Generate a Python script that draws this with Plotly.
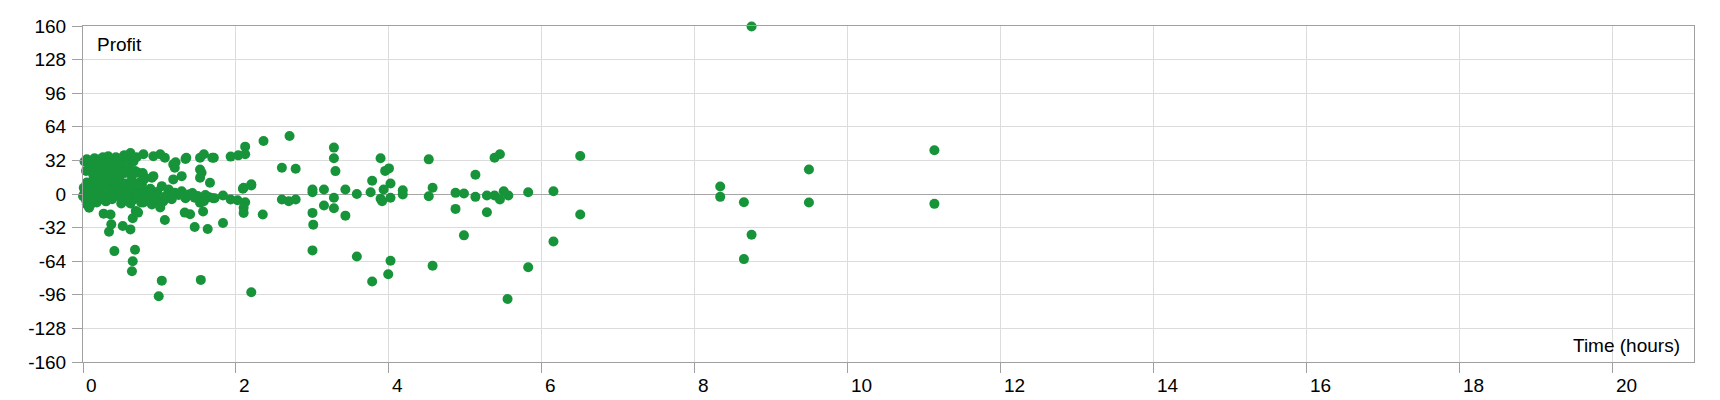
import plotly.graph_objects as go

# Trade duration (hours) and resulting profit
hours = [
    # dense cluster 0-0.8 h
    0.02, 0.05, 0.08, 0.12, 0.15, 0.19, 0.22, 0.26, 0.29, 0.33, 0.36, 0.40, 0.43, 0.46, 0.50, 0.54, 0.58, 0.62, 0.66, 0.70,
    0.04, 0.09, 0.13, 0.17, 0.21, 0.25, 0.28, 0.31, 0.35, 0.39, 0.44, 0.47, 0.51, 0.55, 0.60, 0.64, 0.68,
    0.01, 0.05, 0.09, 0.13, 0.16, 0.20, 0.23, 0.27, 0.30, 0.34, 0.37, 0.41, 0.45, 0.48, 0.52, 0.56, 0.59, 0.63, 0.67, 0.71, 0.74,
    0.00, 0.02, 0.04, 0.07, 0.11, 0.14, 0.18, 0.22, 0.26, 0.30, 0.33, 0.38, 0.42, 0.46, 0.50, 0.53, 0.57, 0.61, 0.65, 0.69, 0.73, 0.76,
    0.05, 0.08, 0.23, 0.62, 0.79, 0.92, 1.05,
    # zero band 0.7-1.7 h
    0.79, 0.84, 0.88, 0.93, 0.97, 1.03, 1.12, 1.20, 1.29, 1.38, 1.46, 1.53, 0.72, 0.81, 0.90, 0.98, 0.77,
    1.08, 1.16, 1.25, 1.34, 1.43, 1.50, 1.60, 1.65, 1.70, 1.58, 1.72,
    # mid band
    0.18, 0.78, 0.80, 0.92, 1.18, 1.29, 1.53, 1.53, 1.66, 2.10, 2.20, 0.72, 0.79, 0.90, 1.18, 1.20, 1.55,
    # top band
    0.79, 0.92, 1.01, 1.07, 1.21, 1.34, 1.35, 1.53, 1.58, 1.71, 1.69, 1.93, 2.03, 2.12, 2.12, 2.36, 2.70, 2.60, 2.78,
    3.28, 3.28, 3.30, 3.89, 3.95, 4.00, 3.78, 4.02,
    # near zero 2-4.2 h
    3.00, 3.00, 3.15, 3.43, 3.58, 3.76, 3.93, 4.18, 4.18, 2.09, 2.20,
    # negatives and the rest
    0.10, 0.27, 0.36, 0.37, 0.34, 0.52, 0.62, 0.65, 0.69, 0.41, 0.68, 0.65, 0.64, 0.72, 1.01, 1.07, 1.33, 1.40, 1.57,
    1.46, 1.03, 0.99, 1.54, 1.63, 1.83, 1.83, 1.93, 2.02, 2.12, 2.10, 2.10, 2.20, 2.35, 2.60, 2.69, 2.78,
    3.00, 3.01, 3.00, 3.15, 3.28, 3.28, 3.43, 3.58, 3.78, 3.89, 3.91, 4.02, 3.99, 4.02,
    4.52, 4.57, 4.52, 4.57, 4.87, 4.87, 4.98, 4.98, 5.13, 5.13, 5.28, 5.28, 5.38, 5.45, 5.38, 5.45, 5.50, 5.56,
    5.82, 5.82, 5.55, 6.15, 6.15, 6.50, 6.50,
    8.33, 8.33, 8.64, 8.74, 8.64, 8.74, 9.49, 9.49, 11.13, 11.13,
]
profit = [
    31, 33, 30, 32, 34, 29, 33, 35, 31, 36, 33, 30, 35, 32, 34, 37, 33, 39, 31, 35,
    22, 26, 19, 24, 17, 27, 21, 15, 25, 19, 23, 16, 27, 20, 24, 17, 22,
    6, 11, 4, 13, 8, 12, 5, 10, 14, 7, 11, 4, 9, 13, 6, 10, 3, 12, 7, 5, 11,
    -2, 1, -6, 2, -4, 0, -8, 1, -3, -7, 0, -5, 2, -2, -9, 1, -4, -1, -6, 0, -3, -8,
    -10, -13, -5, -9, -8, -7, -7,
    3, -1, 5, -3, 2, 7.5, 4.3, 1.1, 2.7, -0.5, -3.6, -8.4, -0.5, -3.6, -10, -5.3, 9.1,
    -2, -5, -1, -4, 1, -2, -1, -3, -4, -6.9, -4,
    17, 20, 14, 17, 13.9, 17, 23.4, 15.5, 10.7, 5.9, 9.2, 20.3, 17, 15.5, 28.2, 25, 20.3,
    37.8, 36, 37.8, 34.6, 30.3, 33.3, 34.6, 34.6, 37.8, 34.6, 34.6, 35.6, 36.8, 45.1, 37.8, 50.5, 55.3, 25, 24,
    44.2, 34, 21.8, 34, 22, 24.4, 12.6, 10,
    4.3, 1.7, 4.3, 4.3, 0, 1.7, 4.3, 3.5, -0.5, 5, 8.1,
    -10, -18.7, -19.6, -28.9, -35.9, -30.5, -33.7, -23.1, -16.1, -54.4, -53.1, -64, -73.5, -17.7, -12.9, -24.7, -17.7, -19.3, -16.7,
    -31.4, -82.5, -97.4, -81.8, -33.3, -27.6, -1.4, -5.3, -5.9, -7.8, -13.2, -18, -93.6, -19.6, -5.3, -6.9, -5.3,
    -18, -29.2, -53.7, -11, -3.6, -13.5, -20.6, -59.5, -83.4, -4.6, -6.9, -3.6, -76.4, -63.6,
    33, 5.9, -2.1, -68.4, 1.1, -14.2, 0.4, -39.4, 18.4, -2.7, -1.4, -17.4, 34.6, 37.8, -1.4, -5.3, 2.7, -1.4,
    1.7, -69.7, -100, 2.7, -45.2, 36.2, -19.6,
    7.2, -2.7, -7.8, -38.8, -62, 159.6, 23.4, -8.1, 41.6, -9.4,
]

x_ticks = list(range(0, 21, 2))
y_ticks = list(range(-160, 161, 32))

FONT = "Liberation Sans, Arial, sans-serif"
GRID = "#dcdcdc"
FRAME = "#a0a0a0"

fig = go.Figure(
    go.Scatter(
        x=hours, y=profit, mode="markers",
        marker=dict(size=10, color="#17943a", line=dict(width=0)),
        cliponaxis=False, hoverinfo="x+y",
    )
)

fig.update_layout(
    width=1720, height=400,
    margin=dict(l=83, r=26, t=26, b=38),
    paper_bgcolor="white", plot_bgcolor="white",
    showlegend=False,
    font=dict(family=FONT, size=19, color="black"),
    xaxis=dict(
        range=[0, 21.06], tickvals=x_ticks, ticktext=[str(v) for v in x_ticks],
        showgrid=True, gridcolor=GRID, gridwidth=1,
        zeroline=False, showline=True, mirror=True, linecolor=FRAME, linewidth=1,
        ticks="outside", ticklen=10, tickcolor=FRAME,
        ticklabelposition="outside right", ticklabelstandoff=6, ticklabelshift=2,
        automargin=False,
    ),
    yaxis=dict(
        range=[-160, 160], tickvals=y_ticks, ticktext=[str(v) for v in y_ticks],
        showgrid=True, gridcolor=GRID, gridwidth=1,
        zeroline=True, zerolinecolor="#a6a6a6", zerolinewidth=1,
        showline=True, mirror=True, linecolor=FRAME, linewidth=1,
        ticks="outside", ticklen=10, tickcolor=FRAME, ticklabelstandoff=2,
        automargin=False,
    ),
    annotations=[
        dict(text="Profit", xref="paper", yref="paper", x=0, y=1, xanchor="left", yanchor="top",
             xshift=12, yshift=-6, showarrow=False, font=dict(family=FONT, size=19)),
        dict(text="Time (hours)", xref="paper", yref="paper", x=1, y=0, xanchor="right", yanchor="bottom",
             xshift=-12, yshift=4, showarrow=False, font=dict(family=FONT, size=19)),
    ],
)

fig.write_html("out.html", config={"displayModeBar": False},
               post_script="document.body.style.margin='0';")
